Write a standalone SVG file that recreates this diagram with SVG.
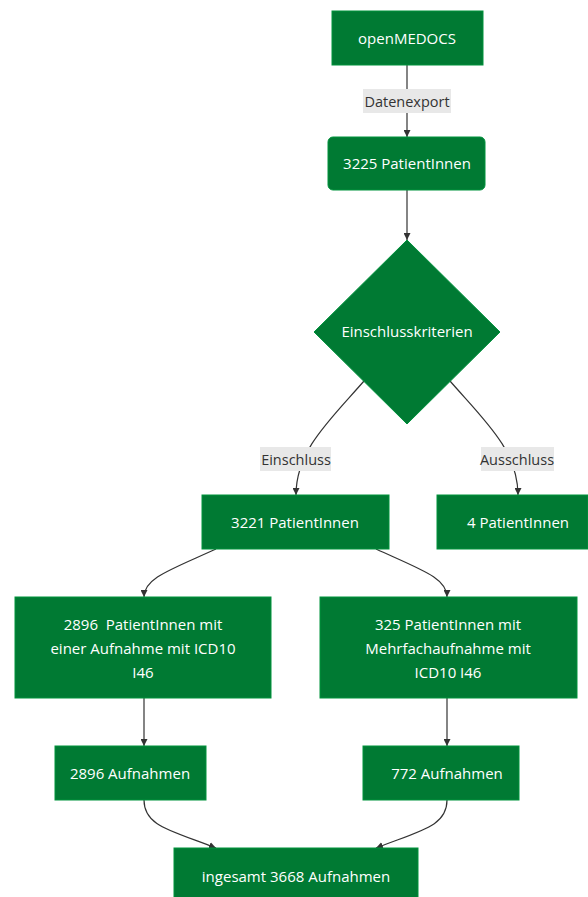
<svg xmlns="http://www.w3.org/2000/svg" width="588" height="897" viewBox="0 0 588 897">
<style>
.n{fill:#007a33;stroke:#00933d;stroke-width:1}
.t{font-family:"Open Sans","Noto Sans",sans-serif;font-size:15px;fill:#ffffff;text-anchor:middle;dominant-baseline:central}
.e{fill:none;stroke:#333333;stroke-width:1.2}
.lb{fill:#e8e8e8}
.lt{font-family:"Open Sans","Noto Sans",sans-serif;font-size:14.5px;fill:#333333;text-anchor:middle;dominant-baseline:central}
</style>
<defs>
<marker id="a" viewBox="0 0 10 10" refX="10" refY="5" markerWidth="7" markerHeight="7" markerUnits="userSpaceOnUse" orient="auto"><path d="M0,0 L10,5 L0,10 z" fill="#333333"/></marker>
</defs>
<rect width="588" height="897" fill="#ffffff"/>
<g id="connectors">
<path class="e" d="M407,65 L407,137" marker-end="url(#a)"/>
<path class="e" d="M407,190 L407,240" marker-end="url(#a)"/>
<path class="e" d="M364,381 C330,420 296,450 296,495" marker-end="url(#a)"/>
<path class="e" d="M450,381 C484,420 518,450 518,495" marker-end="url(#a)"/>
<path class="e" d="M216,549 C170,570 144,578 144,597" marker-end="url(#a)"/>
<path class="e" d="M376,549 C422,570 447,578 447,597" marker-end="url(#a)"/>
<path class="e" d="M144,698 L144,746" marker-end="url(#a)"/>
<path class="e" d="M447,698 L447,746" marker-end="url(#a)"/>
<path class="e" d="M144,800 C144,826 170,830 216,848" marker-end="url(#a)"/>
<path class="e" d="M447,800 C447,826 422,830 376,848" marker-end="url(#a)"/>
<rect class="lb" x="363" y="89" width="88" height="24"/>
<text class="lt" x="407" y="101">Datenexport</text>
<rect class="lb" x="260" y="447" width="71" height="24"/>
<text class="lt" x="296" y="459">Einschluss</text>
<rect class="lb" x="481" y="447" width="73" height="24"/>
<text class="lt" x="517" y="459">Ausschluss</text>
</g>
<g id="openMEDOCS"><rect class="n" x="332" y="11" width="151" height="54"/><text class="t" x="407" y="38">openMEDOCS</text></g>
<g id="p3225"><rect class="n" x="328" y="137" width="157" height="53" rx="5"/><text class="t" x="407" y="163">3225 PatientInnen</text></g>
<g id="kriterien"><polygon class="n" points="407,240 500,332 407,424 314,332"/><text class="t" x="407" y="331">Einschlusskriterien</text></g>
<g id="p3221"><rect class="n" x="202" y="495" width="187" height="54"/><text class="t" x="295" y="522">3221 PatientInnen</text></g>
<g id="p4"><rect class="n" x="437" y="495" width="151" height="54"/><text class="t" x="518" y="522">4 PatientInnen</text></g>
<g id="p2896"><rect class="n" x="15" y="597" width="256" height="101"/><text class="t" x="143" y="624" xml:space="preserve">2896  PatientInnen mit</text><text class="t" x="143" y="648">einer Aufnahme mit ICD10</text><text class="t" x="143" y="672">I46</text></g>
<g id="p325"><rect class="n" x="320" y="597" width="257" height="101"/><text class="t" x="448" y="624">325 PatientInnen mit</text><text class="t" x="448" y="648">Mehrfachaufnahme mit</text><text class="t" x="448" y="672">ICD10 I46</text></g>
<g id="a2896"><rect class="n" x="55" y="746" width="151" height="54"/><text class="t" x="130" y="773">2896 Aufnahmen</text></g>
<g id="a772"><rect class="n" x="363" y="746" width="156" height="54"/><text class="t" x="447" y="773">772 Aufnahmen</text></g>
<g id="total"><rect class="n" x="174" y="848" width="244" height="54"/><text class="t" x="296" y="876">ingesamt 3668 Aufnahmen</text></g>
</svg>
